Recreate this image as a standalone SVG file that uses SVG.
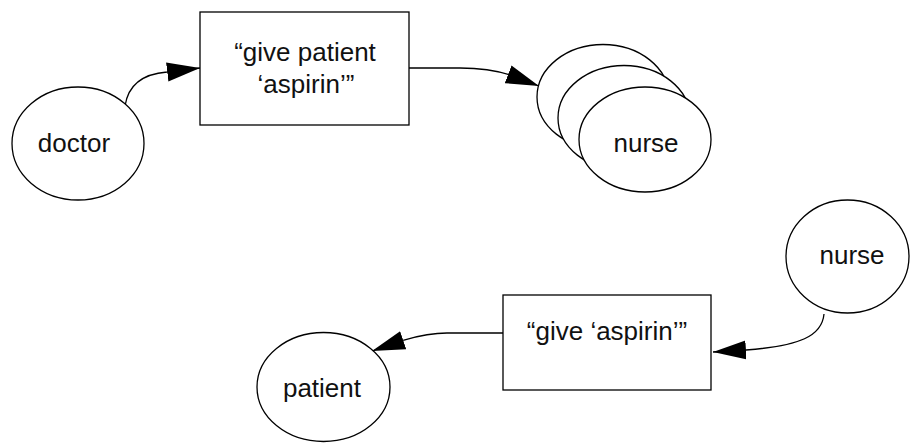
<svg xmlns="http://www.w3.org/2000/svg" width="910" height="443" viewBox="0 0 910 443">
<style>
.n{fill:#fff;stroke:#000;stroke-width:1.3}
.t{font-family:"Liberation Sans",Arial,sans-serif;font-size:26px;fill:#111;text-anchor:middle}
.c{fill:none;stroke:#000;stroke-width:1.3}
</style>
<defs>
<marker id="ah" markerUnits="userSpaceOnUse" markerWidth="34" markerHeight="20" refX="33" refY="9.5" orient="auto" viewBox="0 0 34 20">
<path d="M0,0 L33,9.5 L0,19 z" fill="#000"/>
</marker>
</defs>
<rect width="910" height="443" fill="#fff"/>
<g id="connectors">
<path class="c" d="M125,106 C128,86 142,74 167,72 L200,68" marker-end="url(#ah)"/>
<path class="c" d="M409,68 L460,68 C480,68 495,70 510,75 L539,86" marker-end="url(#ah)"/>
<path class="c" d="M824,314 C822,336 800,346 746,350 L713,352" marker-end="url(#ah)"/>
<path class="c" d="M503,333 L447,333 C430,333 418,336 404,340 L372,351" marker-end="url(#ah)"/>
</g>
<g id="doctor">
<ellipse class="n" cx="78" cy="143.5" rx="66" ry="56.5"/>
<text class="t" x="74" y="152">doctor</text>
</g>
<g id="msg1">
<rect class="n" x="200" y="12" width="209" height="113"/>
<text class="t" x="305" y="61">“give patient</text>
<text class="t" x="306" y="93">‘aspirin’”</text>
</g>
<g id="nurses">
<ellipse class="n" cx="603" cy="97" rx="66" ry="52.5"/>
<ellipse class="n" cx="624" cy="118" rx="66" ry="52.5"/>
<ellipse class="n" cx="645" cy="139.5" rx="66" ry="52.5"/>
<text class="t" x="646" y="152">nurse</text>
</g>
<g id="nurse2">
<ellipse class="n" cx="847.5" cy="256.5" rx="61.5" ry="56.5"/>
<text class="t" x="852" y="264">nurse</text>
</g>
<g id="msg2">
<rect class="n" x="503" y="295" width="208" height="95"/>
<text class="t" x="607" y="340">“give ‘aspirin’”</text>
</g>
<g id="patient">
<ellipse class="n" cx="323.5" cy="387" rx="66.5" ry="54.5"/>
<text class="t" x="322" y="397">patient</text>
</g>
</svg>
